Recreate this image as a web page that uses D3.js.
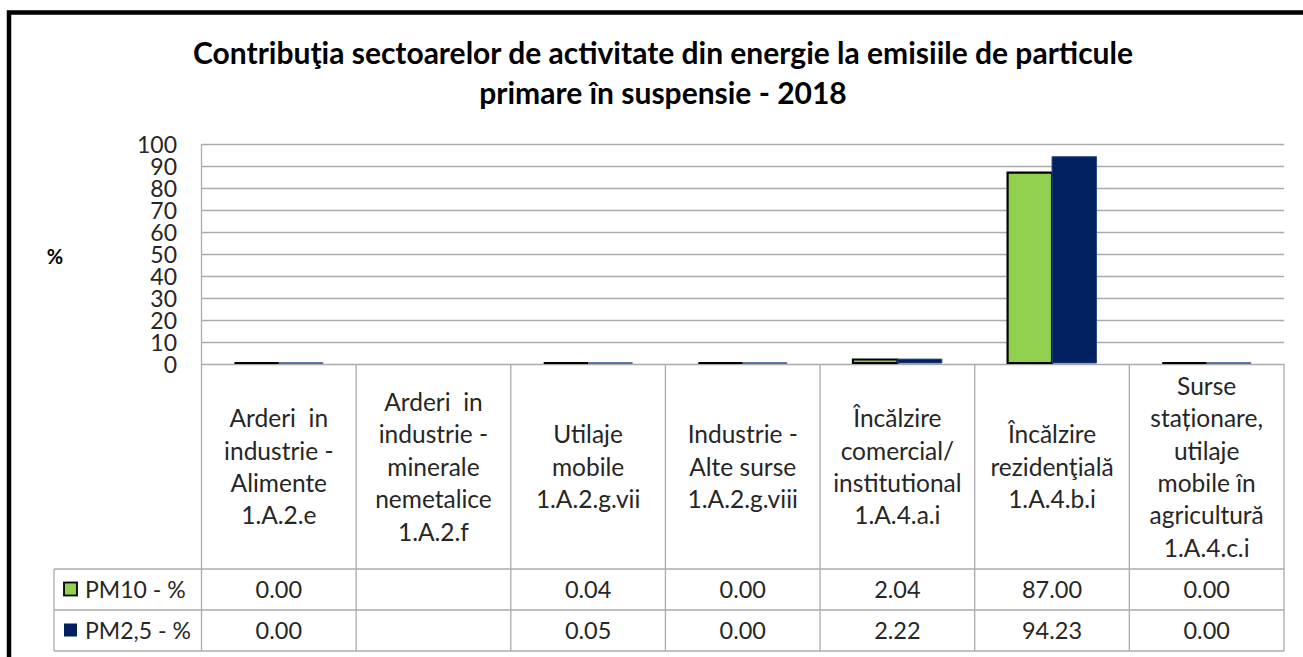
<!DOCTYPE html>
<html>
<head>
<meta charset="utf-8">
<script src="https://cdn.jsdelivr.net/npm/d3@7"></script>
<style>
  html, body { margin: 0; padding: 0; background: #fff; overflow: hidden; }
  svg { display: block; font-family: Lato, "Open Sans", sans-serif; }
</style>
</head>
<body>
<svg id="chart" width="1303" height="657"></svg>
<script>
// ---- data ----
const titleLines = ["Contribuţia sectoarelor de activitate din energie la emisiile de particule",
                    "primare în suspensie - 2018"];
const categories = [
  ["Arderi  in", "industrie -", "Alimente", "1.A.2.e"],
  ["Arderi  in", "industrie -", "minerale", "nemetalice", "1.A.2.f"],
  ["Utilaje", "mobile", "1.A.2.g.vii"],
  ["Industrie -", "Alte surse", "1.A.2.g.viii"],
  ["Încălzire", "comercial/", "institutional", "1.A.4.a.i"],
  ["Încălzire", "rezidenţială", "1.A.4.b.i"],
  ["Surse", "staționare,", "utilaje", "mobile în", "agricultură", "1.A.4.c.i"]
];
const seriesNames = ["PM10 - %", "PM2,5 - %"];
const pm10 = [0.00, null, 0.04, 0.00, 2.04, 87.00, 0.00];
const pm25 = [0.00, null, 0.05, 0.00, 2.22, 94.23, 0.00];
const yTicks = [0, 10, 20, 30, 40, 50, 60, 70, 80, 90, 100];
const yLabel = "%";

// ---- layout ----
const svg = d3.select("#chart");
const plotLeft = 201.5, plotRight = 1284, plotTop = 144, plotBottom = 364;
const headerBottom = 569, row1Bottom = 610, row2Bottom = 651, legendLeft = 54;
const gridColor = "#ababab";
const textColor = "#262626";
const colors = ["#92D050", "#002060"];
const strokes = ["#000000", "#2a4a8a"];
const strokeW = [2.2, 1];
const series = [pm10, pm25];

// frame
svg.append("rect").attr("x", 9).attr("y", 12.5).attr("width", 1400).attr("height", 700)
  .attr("fill", "none").attr("stroke", "#000").attr("stroke-width", 4.5);

// title
const title = svg.append("text").attr("text-anchor", "middle")
  .attr("font-weight", "bold").attr("font-size", 30).attr("fill", "#000");
titleLines.forEach((t, i) => title.append("tspan").attr("x", 663).attr("y", 64 + i * 40).text(t));

// scales
const x = d3.scaleBand().domain(d3.range(categories.length)).range([plotLeft, plotRight]).padding(0);
const xs = d3.scaleBand().domain([0, 1]).range([0, x.bandwidth()]).paddingInner(0).paddingOuter(0.74);
const y = d3.scaleLinear().domain([0, 100]).range([plotBottom, plotTop]);

// gridlines
svg.append("g").selectAll("line").data(yTicks.filter(d => d > 0)).join("line")
  .attr("x1", plotLeft).attr("x2", plotRight)
  .attr("y1", d => Math.round(y(d)) + 0.5).attr("y2", d => Math.round(y(d)) + 0.5)
  .attr("stroke", gridColor).attr("stroke-width", 1.3);

// y axis
const yAxis = d3.axisLeft(y).tickValues(yTicks).tickSize(0).tickPadding(0);
const ga = svg.append("g").attr("transform", `translate(177,0)`).call(yAxis);
ga.select(".domain").remove();
ga.selectAll("text").attr("font-size", 23).attr("fill", textColor)
  .attr("font-family", "Lato, sans-serif").attr("dy", "0.36em");

svg.append("text").attr("x", 55).attr("y", 264).attr("text-anchor", "middle")
  .attr("font-weight", "bold").attr("font-size", 20).text(yLabel);

// table lines
const tl = svg.append("g").attr("stroke", gridColor).attr("stroke-width", 1.3).attr("fill", "none");
tl.append("line").attr("x1", plotLeft).attr("x2", plotRight).attr("y1", plotBottom + 0.5).attr("y2", plotBottom + 0.5);
tl.append("line").attr("x1", plotLeft).attr("x2", plotLeft).attr("y1", plotTop).attr("y2", row2Bottom);
const bounds = d3.range(categories.length + 1).map(i => i < categories.length ? x(i) : plotRight);
bounds.slice(1).forEach(bx => tl.append("line").attr("x1", bx).attr("x2", bx).attr("y1", plotBottom).attr("y2", row2Bottom));
[headerBottom, row1Bottom, row2Bottom].forEach(ry => tl.append("line")
  .attr("x1", legendLeft).attr("x2", plotRight).attr("y1", ry).attr("y2", ry));
tl.append("line").attr("x1", legendLeft).attr("x2", legendLeft).attr("y1", headerBottom).attr("y2", row2Bottom);

// bars (drawn over the axis line)
series.forEach((vals, si) => {
  svg.append("g").selectAll("path").data(vals.map((v, i) => ({v, i})).filter(d => d.v !== null))
    .join("path")
    .attr("d", d => {
      const x0 = x(d.i) + xs(si), x1 = x0 + xs.bandwidth();
      const y0 = y(0) - 1, y1 = Math.min(y(d.v), y0);
      return `M${x0},${y0}V${y1}H${x1}V${y0}Z`;
    })
    .attr("fill", colors[si]).attr("stroke", strokes[si]).attr("stroke-width", strokeW[si]);
});

// category labels
const lh = 32.4, cy = 467;
categories.forEach((lines, i) => {
  const t = svg.append("text").attr("text-anchor", "middle").attr("font-size", 24.5)
    .attr("fill", textColor).style("white-space", "pre");
  lines.forEach((ln, j) => t.append("tspan")
    .attr("x", x(i) + x.bandwidth() / 2)
    .attr("y", cy + (j - (lines.length - 1) / 2) * lh)
    .attr("dy", "0.36em").text(ln));
});

// legend rows + values
const rowTops = [headerBottom, row1Bottom];
const rowBots = [row1Bottom, row2Bottom];
series.forEach((vals, si) => {
  const mid = (rowTops[si] + rowBots[si]) / 2;
  svg.append("rect").attr("x", 64).attr("y", mid - 7).attr("width", 13).attr("height", 13)
    .attr("fill", colors[si]).attr("stroke", si === 0 ? "#000" : "none").attr("stroke-width", 1.8);
  svg.append("text").attr("x", 85).attr("y", mid).attr("dy", "0.36em")
    .attr("font-size", 23).attr("fill", textColor).text(seriesNames[si]);
  vals.forEach((v, i) => {
    if (v === null) return;
    svg.append("text").attr("x", x(i) + x.bandwidth() / 2).attr("y", mid).attr("dy", "0.36em")
      .attr("text-anchor", "middle").attr("font-size", 23.5).attr("fill", textColor).text(v.toFixed(2));
  });
});
</script>
</body>
</html>
